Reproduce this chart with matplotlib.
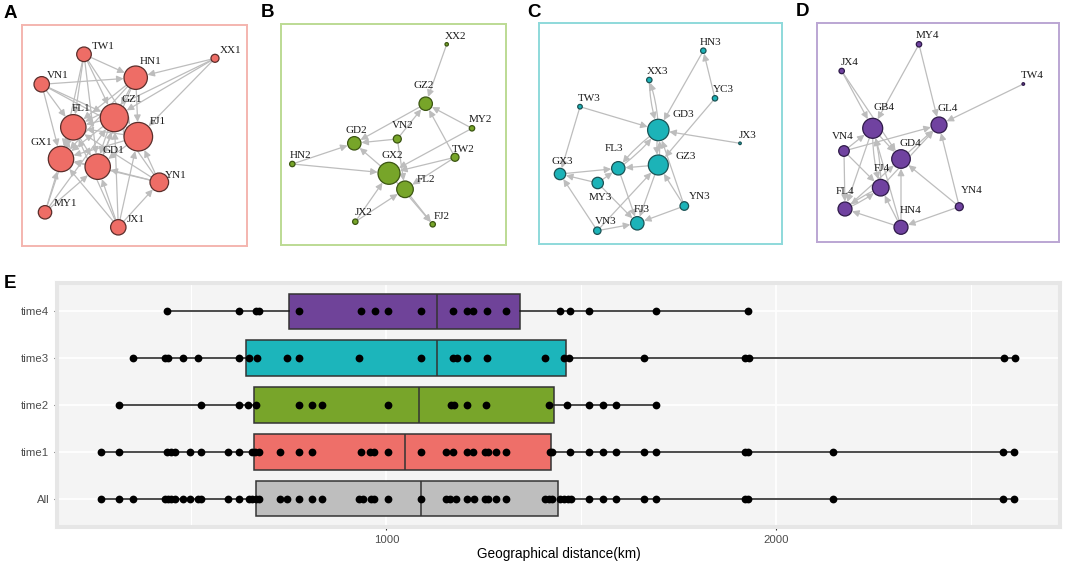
import matplotlib
matplotlib.use("Agg")
import matplotlib.pyplot as plt
from matplotlib.patches import Circle, FancyArrowPatch

# ---------------- data ----------------
# Panel E: geographical distances (km)
groups = ["All", "time1", "time2", "time3", "time4"]
box_colors = ["#BEBEBE", "#EE6F69", "#78A52A", "#1CB5BB", "#6F4399"]
pts_all = [267, 315, 351, 431, 439, 447, 458, 477, 496, 516, 524, 594, 621, 647, 656, 666, 672,
           726, 745, 775, 808, 835, 930, 940, 960, 967, 1004, 1088, 1152, 1162, 1179, 1206, 1225,
           1253, 1261, 1280, 1306, 1407, 1416, 1424, 1445, 1455, 1465, 1474, 1521, 1555, 1589,
           1660, 1692, 1919, 1928, 2146, 2582, 2611]
pts_time1 = [267, 315, 436, 447, 458, 496, 524, 594, 621, 656, 664, 672, 726, 775, 808, 934, 957,
             967, 1004, 1088, 1152, 1171, 1207, 1223, 1253, 1261, 1280, 1306, 1420, 1426, 1471,
             1521, 1555, 1589, 1660, 1692, 1919, 1928, 2146, 2582, 2611]
pts_time2 = [315, 524, 621, 646, 666, 775, 808, 835, 1004, 1167, 1173, 1207, 1255, 1417, 1464,
             1521, 1555, 1589, 1692]
pts_time3 = [351, 431, 439, 477, 516, 621, 647, 667, 745, 775, 930, 1088, 1171, 1181, 1207, 1258,
             1407, 1455, 1468, 1660, 1919, 1930, 2584, 2613]
pts_time4 = [437, 621, 666, 672, 775, 934, 970, 1004, 1088, 1171, 1206, 1223, 1257, 1306, 1445,
             1471, 1521, 1692, 1928]
q1_vals = [666, 661, 660, 640, 750]
med_vals = [1088, 1047, 1084, 1130, 1130]
q3_vals = [1441, 1422, 1429, 1461, 1343]

# Network panels: node names, positions, radii, label positions, edges
A_names = ['TW1', 'HN1', 'XX1', 'VN1', 'GZ1', 'FL1', 'FJ1', 'GX1', 'GD1', 'YN1', 'MY1', 'JX1']
A_x = [84, 135.7, 215, 41.7, 114.3, 73.3, 138.3, 61, 97.7, 159.3, 45, 118.3]
A_y = [54.3, 77.7, 58.3, 84.3, 117.7, 127.3, 136.7, 159, 166.7, 182.3, 212.3, 227.3]
A_r = [7.3, 11.7, 4, 7.7, 14, 12.7, 14.3, 12.7, 12.7, 9.3, 6.7, 7.7]
A_lx = [91.7, 140, 220, 46.7, 121.7, 71.7, 149.3, 30.7, 102.7, 165, 53.3, 126.7]
A_ly = [46.7, 61.7, 50.7, 75, 100, 108.3, 121.7, 142.7, 150.7, 175, 204, 220]
A_edges = [('XX1', 'HN1'), ('XX1', 'GZ1'), ('XX1', 'FJ1'), ('XX1', 'FL1'),
           ('TW1', 'HN1'), ('TW1', 'FL1'), ('TW1', 'GZ1'), ('TW1', 'GX1'), ('TW1', 'GD1'), ('TW1', 'FJ1'),
           ('VN1', 'HN1'), ('VN1', 'FL1'), ('VN1', 'GX1'), ('VN1', 'GZ1'), ('VN1', 'FJ1'),
           ('HN1', 'FJ1'), ('HN1', 'GZ1'), ('HN1', 'FL1'), ('HN1', 'GX1'), ('HN1', 'GD1'),
           ('MY1', 'GX1'), ('MY1', 'FL1'), ('MY1', 'GZ1'), ('MY1', 'GD1'),
           ('JX1', 'GD1'), ('JX1', 'GX1'), ('JX1', 'GZ1'), ('JX1', 'FJ1'), ('JX1', 'YN1'), ('JX1', 'FL1'),
           ('YN1', 'FJ1'), ('YN1', 'GZ1'), ('YN1', 'GD1'), ('YN1', 'GX1'), ('YN1', 'FL1'),
           ('GZ1', 'FL1'), ('GZ1', 'GX1'), ('GZ1', 'GD1'), ('FJ1', 'GX1'), ('FJ1', 'GD1'), ('FJ1', 'FL1'),
           ('FL1', 'GX1'), ('FL1', 'GD1'), ('GD1', 'GX1'), ('GD1', 'GZ1'), ('FJ1', 'GZ1')]

B_names = ['XX2', 'GZ2', 'MY2', 'VN2', 'GD2', 'HN2', 'TW2', 'GX2', 'FL2', 'JX2', 'FJ2']
B_x = [446.7, 425.7, 472, 397.3, 354.3, 292.3, 455, 389, 405, 355.3, 432.7]
B_y = [44.3, 103.7, 128.3, 139, 143.3, 164, 157.3, 173.3, 189.3, 221.7, 224.3]
B_r = [1.7, 6.7, 2.7, 4, 6.7, 2.7, 4, 11, 8.3, 2.7, 2.7]
B_lx = [445, 413, 469, 391.7, 345, 290, 451.7, 381.7, 416.7, 355, 433.3]
B_ly = [36.7, 86, 119, 126, 130.7, 155.3, 149.3, 155, 179, 212.7, 216.7]
B_edges = [('XX2', 'GZ2'), ('MY2', 'GZ2'), ('TW2', 'GZ2'), ('VN2', 'GZ2'), ('GZ2', 'GD2'),
           ('VN2', 'GD2'), ('VN2', 'FL2'), ('HN2', 'GD2'), ('HN2', 'GX2'), ('GX2', 'GD2'),
           ('MY2', 'GX2'), ('TW2', 'GX2'), ('TW2', 'FL2'), ('FL2', 'FJ2'), ('GX2', 'FJ2'),
           ('JX2', 'GX2'), ('JX2', 'FL2')]

C_names = ['HN3', 'XX3', 'YC3', 'TW3', 'GD3', 'JX3', 'FL3', 'GZ3', 'GX3', 'MY3', 'YN3', 'FJ3', 'VN3']
C_x = [703.3, 649.3, 715, 580, 658.3, 740, 618.3, 658.3, 560, 597.7, 684.3, 637.3, 597.3]
C_y = [50.7, 80, 98.3, 106.7, 130, 143.3, 168.3, 165, 174, 183, 206, 223.3, 230.7]
C_r = [2.7, 2.7, 2.7, 2.3, 10.7, 1.3, 6.7, 10, 5.7, 5.7, 4.3, 6.7, 3.7]
C_lx = [700, 646.7, 713.3, 577.7, 672.7, 738.3, 605, 675, 551.7, 588.3, 689, 633.3, 595]
C_ly = [42.7, 71.7, 89.3, 98.3, 114, 135, 148.3, 156, 161, 197.3, 196.7, 209.3, 221.7]
C_edges = [('HN3', 'GD3'), ('YC3', 'HN3'), ('YC3', 'GZ3'), ('XX3', 'GD3'), ('GD3', 'XX3'),
           ('TW3', 'GD3'), ('TW3', 'GX3'), ('JX3', 'GD3'), ('GD3', 'GZ3'), ('GZ3', 'GD3'),
           ('FL3', 'GD3'), ('GD3', 'FL3'), ('GZ3', 'FL3'), ('GX3', 'FL3'), ('MY3', 'FL3'),
           ('MY3', 'GX3'), ('VN3', 'GX3'), ('VN3', 'FJ3'), ('VN3', 'GZ3'), ('FL3', 'FJ3'),
           ('MY3', 'FJ3'), ('GZ3', 'FJ3'), ('YN3', 'FJ3'), ('YN3', 'GZ3'), ('YN3', 'GD3')]

D_names = ['MY4', 'JX4', 'TW4', 'GB4', 'GL4', 'VN4', 'GD4', 'FJ4', 'YN4', 'FL4', 'HN4']
D_x = [919, 841.7, 1023.3, 872.7, 939, 844, 901, 880.7, 959.3, 845, 901]
D_y = [44.3, 71, 84, 128.3, 125, 151, 159, 187.7, 206.7, 209, 227.3]
D_r = [2.7, 2.7, 1.3, 10, 8, 5.3, 9.3, 8.3, 4, 7, 7]
D_lx = [916, 841, 1021, 873.3, 937.7, 831.7, 900, 873.3, 960.7, 836, 900]
D_ly = [35.7, 62.3, 75.7, 107.7, 108.3, 136.7, 143.3, 168.3, 191, 191.7, 210.7]
D_edges = [('MY4', 'GB4'), ('MY4', 'GL4'), ('JX4', 'GB4'), ('JX4', 'GD4'), ('TW4', 'GL4'),
           ('VN4', 'GL4'), ('VN4', 'GB4'), ('VN4', 'FL4'), ('VN4', 'FJ4'), ('GB4', 'GD4'),
           ('GB4', 'FJ4'), ('FJ4', 'GB4'), ('GB4', 'FL4'), ('GD4', 'GL4'), ('FJ4', 'GL4'),
           ('FJ4', 'FL4'), ('FL4', 'FJ4'), ('HN4', 'FL4'), ('HN4', 'FJ4'), ('HN4', 'GD4'),
           ('HN4', 'GB4'), ('YN4', 'GL4'), ('YN4', 'GD4'), ('YN4', 'HN4'), ('FL4', 'GD4')]

# ---------------- figure ----------------
W, H = 1065, 562
fig = plt.figure(figsize=(W / 100, H / 100), dpi=100)
fig.patch.set_facecolor("white")


def px_axes(x0, y0, x1, y1):
    return fig.add_axes([x0 / W, 1 - y1 / H, (x1 - x0) / W, (y1 - y0) / H])


PT = 0.72  # points per pixel at 100 dpi


def draw_network(frame, frame_color, node_color, edge_node_color, names, xs, ys, rs, lxs, lys, edges):
    x0, y0, x1, y1 = frame
    ax = px_axes(x0, y0, x1, y1)
    ax.set_xlim(x0, x1)
    ax.set_ylim(y1, y0)
    ax.set_xticks([])
    ax.set_yticks([])
    for s in ax.spines.values():
        s.set_color(frame_color)
        s.set_linewidth(1.4)
    idx = {n: i for i, n in enumerate(names)}
    eset = set(edges)
    for a, b in edges:
        i, j = idx[a], idx[b]
        rad = 0.08 if (b, a) in eset else 0.0
        arr = FancyArrowPatch((xs[i], ys[i]), (xs[j], ys[j]),
                              arrowstyle="-|>,head_length=0.4,head_width=0.2",
                              mutation_scale=10, color="#BDBDBD", lw=0.9,
                              shrinkA=rs[i] * PT, shrinkB=rs[j] * PT + 0.3,
                              connectionstyle=f"arc3,rad={rad}", zorder=1)
        ax.add_patch(arr)
    for n, x, y, r in zip(names, xs, ys, rs):
        ax.add_patch(Circle((x, y), r, facecolor=node_color, edgecolor=edge_node_color,
                            lw=0.9, zorder=3))
    for n, lx, ly in zip(names, lxs, lys):
        ax.text(lx, ly, n, ha="left", va="center", fontsize=8,
                family=["Liberation Serif", "DejaVu Serif"], color="#1a1a1a", zorder=4)
    return ax


draw_network((21.7, 25, 246.7, 246), "#F4B5AF", "#EE6D66", "#5A2E2B",
             A_names, A_x, A_y, A_r, A_lx, A_ly, A_edges)
draw_network((280.7, 24.3, 506, 245), "#BCDB94", "#77A529", "#3B5512",
             B_names, B_x, B_y, B_r, B_lx, B_ly, B_edges)
draw_network((539.3, 23.3, 781.7, 244.3), "#8ED9DB", "#1CB3B8", "#1B5254",
             C_names, C_x, C_y, C_r, C_lx, C_ly, C_edges)
draw_network((816.7, 22.7, 1059.3, 242.3), "#BBA6D3", "#7042A0", "#2E1A48",
             D_names, D_x, D_y, D_r, D_lx, D_ly, D_edges)

# panel letters
for letter, lx, ly in [("A", 4, 13.5), ("B", 261, 12.5), ("C", 527, 12.5), ("D", 796, 11.5),
                       ("E", 4, 284)]:
    fig.text(lx / W, 1 - ly / H, letter, ha="left", va="center", fontsize=13.5,
             fontweight="bold", family=["Liberation Sans", "DejaVu Sans"])

# ---------------- panel E: box plots ----------------
axE = px_axes(57, 283, 1060, 527)
axE.set_facecolor("#F4F4F4")
for s in axE.spines.values():
    s.set_color("#E6E6E6")
    s.set_linewidth(2.9)

all_pts = [pts_all, pts_time1, pts_time2, pts_time3, pts_time4]
ypos = list(range(1, len(groups) + 1))

stats = []
for name, p, a, m, b in zip(groups, all_pts, q1_vals, med_vals, q3_vals):
    stats.append(dict(label=name, med=m, q1=a, q3=b, whislo=min(p), whishi=max(p), fliers=[]))

kw = dict(positions=ypos, widths=0.75, patch_artist=True, showcaps=False, showfliers=False,
          manage_ticks=False,
          boxprops=dict(edgecolor="#333333", linewidth=1.1),
          medianprops=dict(color="#333333", linewidth=1.1),
          whiskerprops=dict(color="#1a1a1a", linewidth=1.1), zorder=2)
try:
    bp = axE.bxp(stats, orientation="horizontal", **kw)
except TypeError:
    bp = axE.bxp(stats, vert=False, **kw)
for patch, c in zip(bp["boxes"], box_colors):
    patch.set_facecolor(c)

for y, p in zip(ypos, all_pts):
    axE.plot(p, [y] * len(p), "o", color="black", ms=5.6, zorder=5, mec="black", mew=0)

axE.set_xlim(155, 2728)
axE.set_ylim(0.4, len(groups) + 0.6)
axE.set_xticks([1000, 2000])
axE.set_xticks([500, 1500, 2500], minor=True)
axE.set_yticks(ypos)
axE.set_yticklabels(groups)
axE.grid(which="major", color="white", lw=1.2, zorder=0)
axE.grid(which="minor", axis="x", color="white", lw=0.8, zorder=0)
axE.set_axisbelow(True)

axE.tick_params(axis="both", which="major", length=2.5, width=0.8, color="#333333",
                labelcolor="#4D4D4D", labelsize=8.2, pad=3)
axE.tick_params(axis="x", which="minor", length=0)
for lab in axE.get_xticklabels() + axE.get_yticklabels():
    lab.set_family(["Liberation Sans", "DejaVu Sans"])
axE.set_xlabel("Geographical distance(km)", fontsize=9.8, color="black",
               family=["Liberation Sans", "DejaVu Sans"], labelpad=2)

fig.savefig("out.png", dpi=100)
